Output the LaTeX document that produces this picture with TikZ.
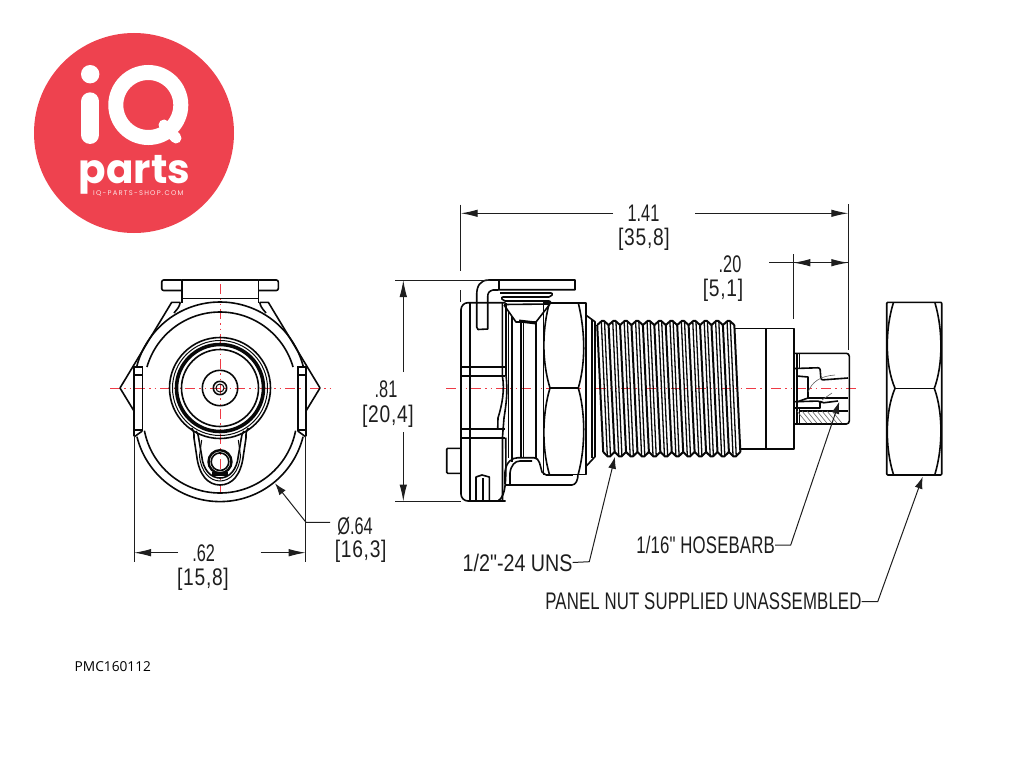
\documentclass[tikz,border=0pt]{standalone}
\usepackage{fontspec}
\usetikzlibrary{arrows.meta}
\newfontfamily\logofont{Poppins}
\newfontfamily\weblogofont[LetterSpace=18]{Poppins}
\newfontfamily\capsfont[FakeStretch=0.70,LetterSpace=0.6]{Liberation Sans}
\newfontfamily\unsfont[FakeStretch=0.82]{Liberation Sans}
\newfontfamily\dimfont[FakeStretch=0.68]{Liberation Sans}
\newfontfamily\mmfont[FakeStretch=0.80,LetterSpace=3]{Liberation Sans}
\newfontfamily\partfont{Open Sans}
\definecolor{logored}{HTML}{EE424F}
\definecolor{axisred}{HTML}{EE3A45}
\definecolor{inkblack}{HTML}{080808}
\definecolor{inkgrey}{HTML}{1E1E1E}
\tikzset{
  outline/.style={draw=inkblack, line width=1.6pt, line join=round},
  fineline/.style={draw=inkblack, line width=1pt},
  threadline/.style={draw=inkblack, line width=1.3pt},
  rootline/.style={draw=inkblack, line width=2pt},
  axisline/.style={draw=axisred, line width=0.9pt, dash pattern=on 10pt off 4pt on 1.5pt off 4pt on 1.5pt off 4pt},
  extline/.style={draw=inkgrey, line width=1pt},
  dimline/.style={draw=inkgrey, line width=1pt, -{Latex[length=17pt,width=7.5pt]}},
  leader/.style={draw=inkgrey, line width=1pt, -{Latex[length=12pt,width=8pt]}},
  dimlabel/.style={inner sep=0pt, text=inkgrey, font=\dimfont\fontsize{24}{24}\selectfont},
  mmlabel/.style={inner sep=0pt, text=inkgrey, font=\mmfont\fontsize{24}{24}\selectfont},
  capslabel/.style={inner sep=0pt, text=inkgrey, font=\capsfont\fontsize{24}{24}\selectfont},
}
\begin{document}
\begin{tikzpicture}[x=1pt, y=-1pt]
  \useasboundingbox (0,0) rectangle (1024,768);
  % logo
  \fill[logored] (134,133) circle[radius=100];
  \fill[white] (90.2,74.2) circle[radius=9.2];
  \draw[white, line width=18.3pt, line cap=round] (90.2,101.5) -- (90.2,134.8);
  \draw[white, line width=15pt] (148.3,105) circle[radius=32.5];
  \draw[white, line width=11pt, line cap=round] (164,125) -- (176,138);
  \node[inner sep=0pt, anchor=base west, text=white, font=\logofont\bfseries\fontsize{40.5}{41}\selectfont] (logoparts) at (78.5,183.5) {parts};
  \node[inner sep=0pt, anchor=west, text=white!85!logored, font=\weblogofont\fontsize{6.8}{7}\selectfont] (logoweb) at (93,193.5) {IQ-PARTS-SHOP.COM};
  % front view
  \draw[axisline] (110,388) -- (331,388);
  \draw[axisline] (220,284) -- (220,498);
  \foreach \side in {1,-1} {
    \begin{scope}[shift={(220,0)}, xscale=\side]
      \draw[outline, rounded corners=2pt] (-38.3,280) -- (-58.3,280) -- (-58.3,290.5) -- (-38.3,290.5);
      \draw[outline] (0,280) -- (-38.3,280) -- (-38.3,303);
      \draw[outline] (0,298.3) -- (-38.3,298.3);
      \draw[outline] (-39.7,302.3) -- (-48.3,302.3) -- (-100,388) -- (-86,411);
      \draw[outline] (-39.7,302.3) .. controls (-41,307) .. (-46,313);
      \draw[outline] (0,388) ++(194:86) arc[start angle=194, end angle=270, radius=86];
      \draw[outline] (0,388) ++(196:76) arc[start angle=196, end angle=270, radius=76];
      \draw[outline] (-86,366.7) -- (-77.7,366.7);
      \draw[outline] (-86,375) -- (-77.7,375);
      \draw[outline] (-86,366) -- (-86,436);
      \draw[outline] (-77.7,366) -- (-77.7,431);
      \draw[outline] (-86,430) -- (-77.7,430);
      \draw[outline] (-86,437) -- (-77.7,431);
      \draw[outline] (0,416) ++(166:85.6) arc[start angle=166, end angle=90, radius=85.6];
      \draw[outline] (0,416) ++(169:77) arc[start angle=169, end angle=90, radius=77];
      \draw[outline] (-28.3,428) .. controls (-26,432) .. (-26,438) -- (-23.3,456) .. controls (-21,475) and (-12,485) .. (0,485);
      \draw[outline] (-24,431) .. controls (-22,434) .. (-21,440) -- (-18.3,456) .. controls (-17,470) and (-9,478) .. (0,478);
      \draw[fineline] (-18.3,440) -- (-20.5,456) .. controls (-19,472) and (-10,481) .. (0,481);
    \end{scope}
  }
  \draw[outline] (220,388) circle[radius=50.5];
  \draw[fineline] (220,388) circle[radius=47.5];
  \draw[draw=inkblack, line width=3.6pt] (220,388) circle[radius=43.5];
  \draw[outline] (220,388) circle[radius=38.5];
  \draw[outline] (220,388) circle[radius=17.7];
  \draw[outline] (220,388) circle[radius=6.7];
  \draw[fineline] (220,388) circle[radius=4];
  \draw[draw=inkblack, line width=2.4pt] (220,461.7) circle[radius=11.5];
  \draw[outline] (220,461.7) circle[radius=8.8];
  \fill[inkblack] (212,472) rectangle (228,476);
  % side view, flange
  \draw[axisline] (446,388) -- (856,388);
  \draw[outline, rounded corners=7pt] (505.7,302.7) -- (461,302.7) -- (461,501) -- (505.7,501);
  \draw[outline] (470,303) -- (470,501);
  \draw[outline] (461,366.7) -- (505,366.7);
  \draw[outline] (461,375.7) -- (505,375.7);
  \draw[outline] (461,429) -- (505,429);
  \draw[outline] (461,437.7) -- (505,437.7);
  \draw[outline] (502.3,303) -- (502.3,375.7) .. controls (505,390) and (502,405) .. (498,418) -- (497.7,429);
  \draw[outline] (506,303) -- (506,375.7) .. controls (508,392) and (506,405) .. (504,418) -- (502.5,437) -- (502.5,501);
  \draw[outline] (505.7,437.7) .. controls (506,480) and (507,495) .. (498,501);
  \draw[outline] (476.7,303.3) -- (476.7,295) .. controls (476.7,286) and (480,280) .. (489,280) -- (575,280) -- (575,289.7) -- (498.7,289.7);
  \draw[outline] (498.7,280) -- (498.7,289.7);
  \draw[outline] (498.7,290) -- (493,290) .. controls (489,291) and (487.7,293) .. (487.7,297) -- (487.7,329) -- (478,329.5) -- (476.7,327) -- (476.7,303);
  \draw[outline] (476,501) -- (476,477) -- (482,475) -- (489.3,477) -- (489.3,501);
  \draw[outline] (483,478) -- (483,501);
  \draw[outline, rounded corners=1pt] (460,448.3) -- (446.7,448.3) -- (446.7,473.3) -- (460,473.3);
  % side view, ribs and window
  \draw[outline, rounded corners=2pt] (500,293) -- (553,293) -- (551,297) -- (501,297) -- (503,301) -- (551,301) -- (550,304) -- (504,304.5);
  \draw[outline] (504,305) -- (516,322) -- (536,322) -- (550,304);
  \draw[draw=inkblack, line width=3pt] (519,321) -- (536,323);
  \draw[outline] (508.3,312) -- (508.3,458);
  \draw[outline] (511.7,316) -- (511.7,462);
  \draw[outline] (520.7,322) -- (520.7,458);
  \draw[outline] (523.3,322) -- (523.3,458);
  \draw[outline] (536,322) -- (536,458);
  \draw[outline] (543.3,303) -- (543.3,474);
  \draw[outline] (505,484) -- (505,472) .. controls (506,462) and (512,457.7) .. (518,457.7) -- (534,457.7) .. controls (540,458) and (540,466) .. (542,472) -- (546,475);
  \draw[outline] (510,484) -- (510,473) .. controls (511,465) and (515,461) .. (520,461) -- (532,461);
  \draw[draw=inkblack, line width=2.4pt] (506,485) -- (571.7,485);
  \draw[outline] (546,475) -- (573,475);
  \draw[outline] (571.7,485) .. controls (576,485) and (578,480) .. (578,474);
  % side view, hexagon nut
  \draw[outline] (543.3,302.7) -- (585.7,302.7) -- (585.7,474.3) -- (543.3,474.3);
  \draw[outline] (550,388) -- (578.3,388);
  \draw[outline] (549.3,303) .. controls (541,335) and (543,365) .. (550,388) .. controls (543,411) and (541,445) .. (549.3,474);
  \draw[outline] (578.3,303) .. controls (586,335) and (585,365) .. (578.3,388) .. controls (585,411) and (586,445) .. (578.3,474);
  \draw[outline] (585.7,315) -- (595,321.7) -- (595,456.7) -- (585.7,466.7);
  \draw[outline] (592,320) -- (592,458);
  % side view, thread
  \foreach \k [evaluate=\k as \x using 602.9+11.43*\k] in {0,...,11} {
    \draw[rootline, rounded corners=1.5pt] ({\x-5.7},325) -- (\x,320) -- ({\x+5.7},325);
    \draw[rootline, rounded corners=1.5pt] ({\x+0.3},452) -- ({\x+6},457.5) -- ({\x+11.7},452);
    \draw[threadline] ({\x-1.6},321) -- ({\x+4.4},456);
    \draw[threadline] ({\x+1.6},321) -- ({\x+7.6},456);
    \draw[rootline] ({\x+5.7},325) -- ({\x+11.7},452);
  }
  \draw[rootline] (597.2,325) -- (603.2,452);
  % side view, cylinder and barb
  \draw[outline] (735,328.3) -- (793.7,328.3) -- (793.7,449) -- (741,449);
  \draw[outline] (765.7,328.3) -- (765.7,449);
  \draw[outline, rounded corners=3pt] (794,353.3) -- (849.3,353.3) -- (849.3,424) -- (794,424);
  \draw[outline] (796.7,353.3) -- (796.7,424);
  \draw[fineline] (799,353.3) -- (799,369);
  \draw[fineline] (799,408) -- (799,424);
  \draw[outline, rounded corners=2pt] (795,368.5) -- (820,367.7) -- (821,380) -- (848,378);
  \draw[outline] (796.7,376) -- (808,377) -- (808,398) -- (796.7,402);
  \draw[outline] (808,398) -- (848,398);
  \draw[outline, rounded corners=2pt] (795,401.7) -- (820,401) -- (821.7,403) -- (838,401);
  \draw[outline] (795,408) -- (820,408) -- (820,401);
  \draw[outline] (799,410.7) -- (848.3,410.7);
  \foreach \h in {0,5,...,35} {
    \draw[fineline, line width=0.6pt, draw=inkgrey!70] ({807+\h},423.3) -- ({\h+797},411);
  }
  \draw[fineline, line width=0.6pt, draw=inkgrey!70] (808,392) .. controls (812,382) and (820,376) .. (835,375);
  \draw[fineline, line width=0.6pt, draw=inkgrey!70] (822,400) -- (832,393);
  % panel nut
  \draw[outline, rounded corners=1pt] (886.7,302.3) rectangle (941.7,475);
  \draw[outline] (895,388.3) -- (934.3,388.3);
  \draw[outline] (893.3,303) .. controls (885,330) and (885,365) .. (895,388.3) .. controls (885,412) and (885,447) .. (893.3,474);
  \draw[outline] (935,303) .. controls (943,330) and (943,365) .. (934.3,388.3) .. controls (943,412) and (943,447) .. (935,474);
  % dimensions
  \coordinate (widthL) at (460.7,213.3);
  \coordinate (widthR) at (848.3,213.3);
  \coordinate (widthA) at (613,213.3);
  \coordinate (widthB) at (695,213.3);
  \coordinate (barbL) at (793.3,262.7);
  \coordinate (barbR) at (848.3,262.7);
  \coordinate (barbS) at (769,262.7);
  \coordinate (highT) at (403.3,280);
  \coordinate (highB) at (403.3,501.5);
  \coordinate (highC) at (403.3,372);
  \coordinate (highD) at (403.3,432);
  \coordinate (frontL) at (134,552.7);
  \coordinate (frontR) at (305.7,552.7);
  \coordinate (frontA) at (178,552.7);
  \coordinate (frontB) at (260.7,552.7);
  \draw[extline] (460.7,204.5) -- (460.7,271);
  \draw[extline] (460.7,290) -- (460.7,302);
  \draw[extline] (848.3,204) -- (848.3,350);
  \draw[extline] (793.3,254) -- (793.3,319);
  \draw[extline] (395,280) -- (490,280);
  \draw[extline] (395,501.5) -- (461,501.5);
  \draw[extline] (134,436) -- (134,561.7);
  \draw[extline] (305.7,436) -- (305.7,561.7);
  \draw[dimline] (widthA) -- (widthL);
  \draw[dimline] (widthB) -- (widthR);
  \draw[dimline] (barbR) -- (barbL);
  \draw[dimline] (barbS) -- (barbR);
  \draw[dimline] (highC) -- (highT);
  \draw[dimline] (highD) -- (highB);
  \draw[dimline] (frontA) -- (frontL);
  \draw[dimline] (frontB) -- (frontR);
  \node[dimlabel] (widthin) at (643.5,213) {1.41};
  \node[mmlabel] (widthmm) at (644,239) {[35,8]};
  \node[dimlabel] (barbin) at (730,264) {.20};
  \node[mmlabel] (barbmm) at (723,290) {[5,1]};
  \node[dimlabel] (highin) at (386,389) {.81};
  \node[mmlabel] (highmm) at (388,416) {[20,4]};
  \node[dimlabel] (frontin) at (203.7,553) {.62};
  \node[mmlabel] (frontmm) at (203,579) {[15,8]};
  \node[dimlabel] (diain) at (355,526.7) {Ø.64};
  \node[mmlabel] (diamm) at (360.7,551.7) {[16,3]};
  % leaders
  \coordinate (diaK) at (306,522.3);
  \coordinate (diaT) at (275,483.3);
  \coordinate (diaE) at (330,522.3);
  \draw[leader] (diaE) -- (diaK) -- (diaT);
  \node[capslabel, anchor=east, font=\unsfont\fontsize{24}{24}\selectfont] (unslabel) at (572.7,562.5) {1/2"-24 UNS};
  \coordinate (unsK) at (589.3,561.7);
  \coordinate (unsT) at (615,456.7);
  \draw[leader] (unslabel.east) -- (unsK) -- (unsT);
  \node[capslabel, anchor=east] (hoselabel) at (775,545) {1/16" HOSEBARB};
  \coordinate (hoseK) at (790.7,545);
  \coordinate (hoseT) at (839.3,401.7);
  \draw[leader] (hoselabel.east) -- (hoseK) -- (hoseT);
  \node[capslabel, anchor=east] (nutlabel) at (861.7,601.7) {PANEL NUT SUPPLIED UNASSEMBLED};
  \coordinate (nutK) at (877.7,601.7);
  \coordinate (nutT) at (922.7,476.7);
  \draw[leader] (nutlabel.east) -- (nutK) -- (nutT);
  \node[inner sep=0pt, anchor=west, text=black, font=\partfont\fontsize{13.7}{14}\selectfont] (partno) at (74.5,667) {PMC160112};
\end{tikzpicture}
\end{document}
